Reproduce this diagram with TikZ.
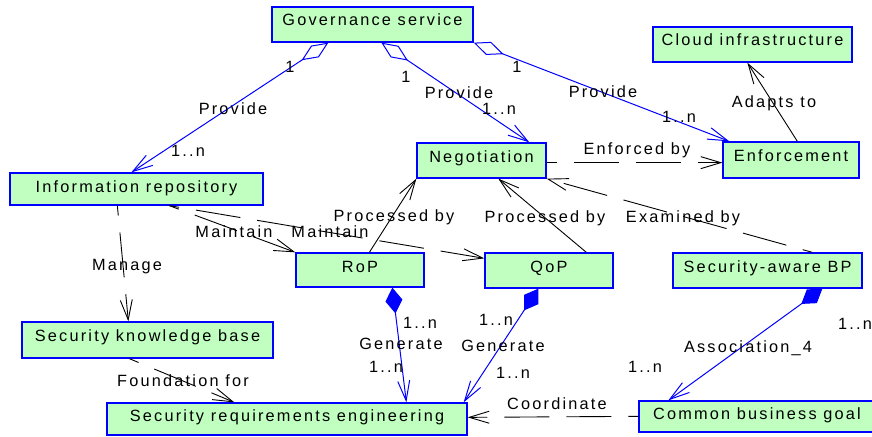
\documentclass[tikz,border=0pt]{standalone}
\usepackage{fontspec}
\setmainfont{Liberation Sans}[LetterSpace=13.5]
\usetikzlibrary{arrows.meta,calc}
\definecolor{boxgreen}{RGB}{192,255,192}
\definecolor{umlblue}{RGB}{0,0,255}
\tikzset{
  barb/.tip={Straight Barb[length=20pt,width=12pt]},
  odia/.tip={Diamond[open,length=32pt,width=14pt]},
  fdia/.tip={Diamond[length=26pt,width=17pt]},
  box/.style 2 args={draw=umlblue, line width=1.3pt, fill=boxgreen, inner sep=0pt,
    text height=11.5pt, text depth=8.5pt, minimum width=#1 pt, minimum height=#2 pt},
  lbl/.style={inner sep=0pt, text height=11pt, text depth=0pt},
  assoc/.style={draw=umlblue, line width=1pt},
  dep/.style={draw=black, line width=0.9pt, dash pattern=on 45pt off 17pt, dash phase=35pt},
  rel/.style={draw=black, line width=0.9pt}
}
\begin{document}
\begin{tikzpicture}[x=1pt,y=-1pt,
  every node/.append style={font=\fontsize{16.3}{19}\selectfont}]
\useasboundingbox (0,0) rectangle (872,436);
% boxes
\node[box={201}{35}] (gov) at (372.5,24.5) {Governance service};
\node[box={199}{35}] (cloud) at (752.5,44.5) {Cloud infrastructure};
\node[box={136}{36}, text depth=9.5pt] (enf) at (791,160) {Enforcement};
\node[box={129}{35}] (neg) at (481.5,160.5) {Negotiation};
\node[box={253}{32}, text depth=5.5pt] (info) at (136.5,189) {Information repository};
\node[box={128}{34}, text depth=7.5pt] (rop) at (360,270) {RoP};
\node[box={128}{35}] (qop) at (549,270.5) {QoP};
\node[box={189}{35}] (sbp) at (767.5,270.5) {Security-aware BP};
\node[box={251}{36}, text depth=9.5pt] (skb) at (147.5,340) {Security knowledge base};
\node[box={360}{32}, text depth=7.5pt] (sre) at (287,419) {Security requirements engineering};
\node[box={236}{31}, text depth=6.5pt] (cbg) at (757,416.5) {Common business goal};
% aggregation connectors from Governance service
\draw[assoc, {odia}-{barb}] ([xshift=57pt]gov.south west) -- ([xshift=122pt]info.north west);
\draw[assoc, {odia}-{barb}] ([xshift=110pt]gov.south west) -- ([xshift=113pt]neg.north west);
\draw[assoc, {odia}-{barb}] (gov.south east) -- ([xshift=7pt]enf.north west);
\node[lbl] (l1a) at (290,67) {1};
\node[lbl] (l1b) at (233,109) {Provide};
\node[lbl] (l1c) at (188,151) {1..n};
\node[lbl] (l2a) at (406,77) {1};
\node[lbl] (l2b) at (459,93) {Provide};
\node[lbl] (l2c) at (499,109) {1..n};
\node[lbl] (l3a) at (517,67) {1};
\node[lbl] (l3b) at (603,92) {Provide};
\node[lbl] (l3c) at (679,117) {1..n};
% black connectors
\draw[rel, -{barb}] ([xshift=75pt]enf.north west) -- ([xshift=95pt]cloud.south west);
\node[lbl] (l4) at (774,102) {Adapts to};
\draw[dep, -{barb}] ([yshift=16pt]neg.south east) -- ([yshift=16pt]enf.south west);
\node[lbl] (l5) at (637,149) {Enforced by};
\draw[dep, -{barb}] ([xshift=140pt]sbp.north west) -- (neg.south east);
\node[lbl] (l6) at (683,217) {Examined by};
\draw[rel, -{barb}] ([xshift=74pt]rop.north west) -- (neg.south west);
\node[lbl] (l7) at (394,216) {Processed by};
\draw[rel, -{barb}] ([xshift=102pt]qop.north west) -- ([xshift=82pt]neg.south west);
\node[lbl] (l8) at (545,217) {Processed by};
\draw[dep, -{barb}] ([xshift=160pt]info.south west) -- (rop.north west);
\node[lbl] (l9) at (234,232) {Maintain};
\draw[dep, -{barb}] ([xshift=160pt]info.south west) -- ([yshift=-6pt]qop.north west);
\node[lbl] (l10) at (330,232) {Maintain};
\draw[dep, -{barb}] ([xshift=108pt]info.south west) -- ([xshift=107pt]skb.north west);
\node[lbl] (l11) at (127,265) {Manage};
\draw[dep, -{barb}] ([xshift=108pt]skb.south west) -- ([xshift=128pt]sre.north west);
\node[lbl] (l12) at (183,381) {Foundation for};
% composition connectors
\draw[assoc, {fdia}-{barb}] ([xshift=97pt]rop.south west) -- ([xshift=300pt]sre.north west);
\node[lbl] (l13a) at (420,323) {1..n};
\node[lbl] (l13b) at (401,344) {Generate};
\node[lbl] (l13c) at (386,367) {1..n};
\draw[assoc, {fdia}-{barb}] ([xshift=54pt]qop.south west) -- ([xshift=-4pt]sre.north east);
\node[lbl] (l14a) at (496,320) {1..n};
\node[lbl] (l14b) at (503,346) {Generate};
\node[lbl] (l14c) at (513,373) {1..n};
\draw[assoc, {fdia}-{barb}] ([xshift=150pt]sbp.south west) -- ([xshift=30pt]cbg.north west);
\node[lbl] (l15a) at (855,324) {1..n};
\node[lbl] (l15b) at (748,347) {Association\_4};
\node[lbl] (l15c) at (645,367) {1..n};
\draw[dep, -{barb}] ([yshift=-16pt]cbg.north west) -- ([yshift=-15pt]sre.north east);
\node[lbl] (l16) at (557,404) {Coordinate};
\end{tikzpicture}
\end{document}
